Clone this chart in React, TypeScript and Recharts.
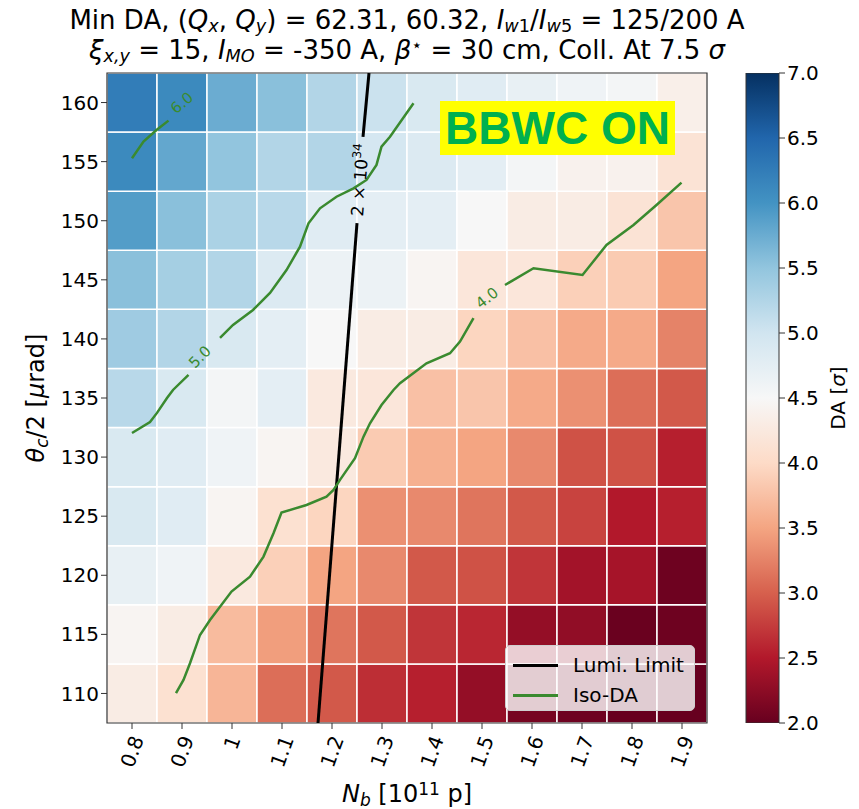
import React from "react";
import { ComposedChart, XAxis, YAxis, Line, Bar, ReferenceArea, Scatter, Legend } from "recharts";

// bunch intensity columns and crossing-angle rows
const nbTicks = [0.8, 0.9, 1.0, 1.1, 1.2, 1.3, 1.4, 1.5, 1.6, 1.7, 1.8, 1.9];
const thetaTicks = [110, 115, 120, 125, 130, 135, 140, 145, 150, 155, 160];
const daTicks = [2.0, 2.5, 3.0, 3.5, 4.0, 4.5, 5.0, 5.5, 6.0, 6.5, 7.0];
const colorbarData = [{ name: "DA", span: [2, 7] }];

// DA [sigma] per row (left = 0.8 ... right = 1.9)
const da110 = [4.3, 4.1, 3.65, 3.1, 2.95, 2.65, 2.55, 2.3, 2.1, 2.05, 2.0, 2.0];
const da115 = [4.45, 4.3, 3.7, 3.45, 3.15, 2.95, 2.7, 2.6, 2.3, 2.28, 2.02, 2.05];
const da120 = [4.7, 4.6, 4.25, 3.9, 3.5, 3.3, 2.95, 2.9, 2.7, 2.4, 2.42, 2.05];
const da125 = [4.9, 4.8, 4.45, 4.1, 3.95, 3.35, 3.3, 3.15, 2.95, 2.8, 2.5, 2.55];
const da130 = [4.9, 4.8, 4.6, 4.45, 4.25, 3.85, 3.6, 3.5, 3.3, 2.9, 2.9, 2.55];
const da135 = [5.2, 4.9, 4.55, 4.75, 4.25, 4.2, 3.75, 3.8, 3.55, 3.35, 3.1, 2.95];
const da140 = [5.4, 5.25, 4.9, 4.75, 4.5, 4.3, 4.3, 3.95, 3.75, 3.55, 3.55, 3.25];
const da145 = [5.55, 5.35, 5.25, 4.85, 4.65, 4.65, 4.45, 4.2, 4.2, 3.9, 3.85, 3.5];
const da150 = [5.9, 5.55, 5.3, 5.2, 4.8, 4.75, 4.75, 4.5, 4.3, 4.3, 4.15, 3.8];
const da155 = [6.1, 5.8, 5.5, 5.25, 5.25, 4.95, 4.85, 4.75, 4.55, 4.4, 4.4, 4.15];
const da160 = [6.25, 6.1, 5.75, 5.55, 5.25, 5.05, 4.9, 4.8, 4.7, 4.6, 4.55, 4.35];
const daRows = [da110, da115, da120, da125, da130, da135, da140, da145, da150, da155, da160];

// luminosity limit (split where the label sits)
const lumiLow = [{ x: 1.172, y: 107.5 }, { x: 1.25, y: 149.8 }];
const lumiHigh = [{ x: 1.262, y: 157.1 }, { x: 1.274, y: 162.5 }];

// iso-DA contours, traced
const iso6 = [
  { x: 0.8, y: 155.28 }, { x: 0.823, y: 156.69 }, { x: 0.849, y: 157.68 }, { x: 0.873, y: 158.47 },
];
const iso5a = [
  { x: 0.8, y: 132.04 }, { x: 0.836, y: 132.97 }, { x: 0.85, y: 133.74 }, { x: 0.87, y: 135.0 },
  { x: 0.882, y: 135.68 }, { x: 0.913, y: 136.95 },
];
const iso5b = [
  { x: 0.976, y: 140.08 }, { x: 1.002, y: 141.18 }, { x: 1.042, y: 142.45 }, { x: 1.076, y: 143.89 },
  { x: 1.109, y: 145.83 }, { x: 1.136, y: 147.8 }, { x: 1.153, y: 149.78 }, { x: 1.176, y: 151.05 },
  { x: 1.209, y: 152.03 }, { x: 1.243, y: 152.74 }, { x: 1.269, y: 153.45 }, { x: 1.289, y: 154.72 },
  { x: 1.299, y: 156.27 }, { x: 1.316, y: 157.11 }, { x: 1.363, y: 159.94 },
];
const iso4a = [
  { x: 0.888, y: 110.02 }, { x: 0.903, y: 111.15 }, { x: 0.916, y: 112.56 }, { x: 0.936, y: 114.95 },
  { x: 0.956, y: 116.22 }, { x: 0.999, y: 118.62 }, { x: 1.036, y: 119.88 }, { x: 1.063, y: 121.58 },
  { x: 1.083, y: 123.56 }, { x: 1.099, y: 125.3 }, { x: 1.149, y: 125.95 }, { x: 1.189, y: 126.65 },
  { x: 1.203, y: 127.22 }, { x: 1.216, y: 128.07 }, { x: 1.246, y: 129.9 }, { x: 1.263, y: 131.73 },
  { x: 1.276, y: 132.86 }, { x: 1.299, y: 134.41 }, { x: 1.323, y: 135.68 }, { x: 1.336, y: 136.25 },
  { x: 1.389, y: 137.94 }, { x: 1.436, y: 138.79 }, { x: 1.456, y: 139.77 }, { x: 1.483, y: 141.75 },
];
const iso4b = [
  { x: 1.546, y: 144.56 }, { x: 1.603, y: 145.98 }, { x: 1.701, y: 145.41 }, { x: 1.749, y: 147.95 },
  { x: 1.803, y: 149.64 }, { x: 1.849, y: 151.33 }, { x: 1.899, y: 153.22 },
];

const contourLabels = [
  { x: 0.9, y: 159.96, text: "6.0" },
  { x: 0.936, y: 138.47, text: "5.0" },
  { x: 1.51, y: 143.46, text: "4.0" },
];
const lumiLabel = [{ x: 1.256, y: 153.45 }];

const legendNames = ["Lumi. Limit", "Iso-DA"];

const FONT = "'DejaVu Sans', sans-serif";
const GREEN = "#3a8a2f";
const LABEL_ROT = [-40, -45, -38];

// matplotlib RdBu (low -> high)
const RDBU = [
  "#67001f", "#b2182b", "#d6604d", "#f4a582", "#fddbc7", "#f7f7f7",
  "#d1e5f0", "#92c5de", "#4393c3", "#2166ac", "#053061",
];

function hex(c: string) {
  return [1, 3, 5].map((i) => parseInt(c.slice(i, i + 2), 16));
}

function rdbu(v: number) {
  const t = Math.min(Math.max((v - 2) / 5, 0), 1) * 10;
  const i = Math.min(Math.floor(t), 9);
  const f = t - i;
  const a = hex(RDBU[i]);
  const b = hex(RDBU[i + 1]);
  const c = a.map((av, k) => Math.round(av + (b[k] - av) * f));
  return `rgb(${c[0]},${c[1]},${c[2]})`;
}

const fmtNb = (v: number) => (Number.isInteger(v) ? String(v) : v.toFixed(1));

function NbTick({ x, y, payload }: any) {
  const label = fmtNb(payload.value);
  let w = 0;
  for (const ch of label) w += ch === "." ? 6.4 : 12.7;
  const cy = y + 3 + (w * 0.94 + 15 * 0.34) / 2;
  return (
    <text x={x} y={cy} transform={`rotate(-70 ${x} ${cy})`} textAnchor="middle"
      dominantBaseline="central" fontSize={20} fontFamily={FONT} fill="#000">
      {label}
    </text>
  );
}

function XTitle({ viewBox }: any) {
  const cx = viewBox.x + viewBox.width / 2;
  return (
    <text x={cx} y={viewBox.y + 79} textAnchor="middle" fontSize={24} fontFamily={FONT} fill="#000">
      <tspan fontStyle="italic">N</tspan>
      <tspan fontStyle="italic" fontSize={17} baselineShift="-22%">b</tspan>
      <tspan> [10</tspan>
      <tspan fontSize={17} baselineShift="40%">11</tspan>
      <tspan> p]</tspan>
    </text>
  );
}

function YTitle({ viewBox }: any) {
  const x = viewBox.x + 36;
  const y = viewBox.y + viewBox.height / 2;
  return (
    <text x={x} y={y} transform={`rotate(-90 ${x} ${y})`} textAnchor="middle" fontSize={24}
      fontFamily={FONT} fill="#000">
      <tspan fontStyle="italic">θ</tspan>
      <tspan fontStyle="italic" fontSize={17} baselineShift="-22%">c</tspan>
      <tspan>/2 [</tspan>
      <tspan fontStyle="italic">μ</tspan>
      <tspan>rad]</tspan>
    </text>
  );
}

function CbarTitle({ viewBox }: any) {
  const x = viewBox.x + 66;
  const y = viewBox.y + viewBox.height / 2;
  return (
    <text x={x} y={y} transform={`rotate(-90 ${x} ${y})`} textAnchor="middle" fontSize={20}
      fontFamily={FONT} fill="#000">
      DA [<tspan fontStyle="italic">σ</tspan>]
    </text>
  );
}

function ContourLabel(props: any) {
  const { cx, cy, payload, index } = props;
  return (
    <text x={cx} y={cy} transform={`rotate(${LABEL_ROT[index] ?? -40} ${cx} ${cy})`}
      textAnchor="middle" dominantBaseline="central" fontSize={15} fontFamily={FONT} fill={GREEN}>
      {payload.text}
    </text>
  );
}

function LumiText(props: any) {
  const { cx, cy } = props;
  return (
    <text x={cx} y={cy} transform={`rotate(-85.4 ${cx} ${cy})`} textAnchor="middle"
      dominantBaseline="central" fontSize={17} fontFamily={FONT} fill="#000">
      2 × 10<tspan fontSize={12} baselineShift="45%">34</tspan>
    </text>
  );
}

function LegendBox() {
  const colors = ["#000", GREEN];
  return (
    <div style={{
      background: "rgba(255,255,255,0.8)", border: "1px solid #cfcfcf", borderRadius: 5,
      width: 190, height: 66, boxSizing: "border-box", padding: "4px 0 0 7px", fontFamily: FONT,
    }}>
      {legendNames.map((n, i) => (
        <div key={n} style={{ display: "flex", alignItems: "center", height: 30, fontSize: 20 }}>
          <span style={{ display: "inline-block", width: 45, height: 0, borderTop: `3px solid ${colors[i]}`, marginRight: 15 }} />
          <span>{n}</span>
        </div>
      ))}
    </div>
  );
}

export default function App() {
  const cells = thetaTicks.flatMap((t, ri) => nbTicks.map((n, ci) => ({ n, t, v: daRows[ri][ci] })));
  const sub = { fontSize: "68%", verticalAlign: "-0.15em", lineHeight: 0 } as React.CSSProperties;
  const sup = { fontSize: "68%", verticalAlign: "0.45em", lineHeight: 0 } as React.CSSProperties;

  return (
    <div style={{ position: "relative", width: 851, height: 801, fontFamily: FONT }}>
      <div style={{
        position: "absolute", left: 0, top: -3, width: 798, textAlign: "center",
        fontSize: 26, lineHeight: "30px", color: "#000", whiteSpace: "nowrap",
      }}>
        <div>
          Min DA, (<i>Q</i><i style={sub}>x</i>, <i>Q</i><i style={sub}>y</i>) = 62.31, 60.32,{" "}
          <i>I</i><span style={sub}><i>w</i>1</span>/<i>I</i><span style={sub}><i>w</i>5</span> = 125/200 A
        </div>
        <div>
          <i>ξ</i><i style={sub}>x,y</i> = 15, <i>I</i><i style={sub}>MO</i> = -350 A,{" "}
          <i>β</i><span style={sup}>⋆</span> = 30 cm, Coll. At 7.5 <i>σ</i>
        </div>
      </div>

      <div style={{ position: "absolute", left: 0, top: 0 }}>
        <ComposedChart width={720} height={801} margin={{ top: 65, right: 21, bottom: 26, left: 0 }}>
          <XAxis type="number" dataKey="x" domain={[0.75, 1.95]} ticks={nbTicks} interval={0}
            allowDataOverflow axisLine={false} tickSize={6} tickLine={{ stroke: "#333" }}
            tick={<NbTick />} height={60} label={<XTitle />} />
          <YAxis type="number" dataKey="y" domain={[107.5, 162.5]} ticks={thetaTicks} interval={0}
            allowDataOverflow axisLine={false} tickSize={6} tickLine={{ stroke: "#333" }} width={99}
            tick={{ fontSize: 20, fill: "#000", fontFamily: FONT }} label={<YTitle />} />
          {cells.map((c) => (
            <ReferenceArea key={`${c.n}-${c.t}`} x1={c.n - 0.05} x2={c.n + 0.05} y1={c.t - 2.5} y2={c.t + 2.5}
              fill={rdbu(c.v)} fillOpacity={1} stroke="#fff" strokeWidth={1.5} ifOverflow="visible" />
          ))}
          <ReferenceArea x1={0.75} x2={1.95} y1={107.5} y2={162.5} fill="none" fillOpacity={0}
            stroke="#333" strokeWidth={1.2} ifOverflow="visible" />
          <Line data={lumiLow} dataKey="y" stroke="#000" strokeWidth={3} dot={false} activeDot={false} isAnimationActive={false} type="linear" />
          <Line data={lumiHigh} dataKey="y" stroke="#000" strokeWidth={3} dot={false} activeDot={false} isAnimationActive={false} type="linear" />
          {[iso6, iso5a, iso5b, iso4a, iso4b].map((d, i) => (
            <Line key={i} data={d} dataKey="y" stroke={GREEN} strokeWidth={2.5} dot={false} activeDot={false}
              isAnimationActive={false} type="linear" />
          ))}
          <Scatter data={contourLabels} dataKey="y" shape={<ContourLabel />} isAnimationActive={false} />
          <Scatter data={lumiLabel} dataKey="y" shape={<LumiText />} isAnimationActive={false} />
          <Legend layout="vertical" align="center" verticalAlign="middle" content={<LegendBox />}
            wrapperStyle={{ left: 497, top: 637, width: 192, height: 68 }} />
        </ComposedChart>
      </div>

      <div style={{
        position: "absolute", left: 432, top: 93, width: 235, height: 54, background: "#ffff00",
        color: "#00b050", fontFamily: "'Liberation Sans', Arial, sans-serif", fontWeight: "bold",
        fontSize: 46, lineHeight: "54px", textAlign: "center",
      }}>
        BBWC ON
      </div>

      <div style={{ position: "absolute", left: 728, top: 0 }}>
        <ComposedChart width={123} height={801} data={colorbarData} barCategoryGap={0}
          margin={{ top: 65, right: 30, bottom: 86, left: 10 }}>
          <defs>
            <linearGradient id="rdbuBar" x1="0" y1="0" x2="0" y2="1">
              {RDBU.map((_, k) => (
                <stop key={k} offset={k / 10} stopColor={RDBU[RDBU.length - 1 - k]} />
              ))}
            </linearGradient>
          </defs>
          <XAxis type="category" dataKey="name" hide />
          <YAxis orientation="right" type="number" domain={[2, 7]} ticks={daTicks} interval={0}
            allowDataOverflow axisLine={false} tickSize={6} tickLine={{ stroke: "#333" }} width={50}
            tickFormatter={(v: number) => v.toFixed(1)}
            tick={{ fontSize: 20, fill: "#000", fontFamily: FONT }} label={<CbarTitle />} />
          <Bar dataKey="span" fill="url(#rdbuBar)" stroke="#333" strokeWidth={1} isAnimationActive={false} />
        </ComposedChart>
      </div>
    </div>
  );
}
